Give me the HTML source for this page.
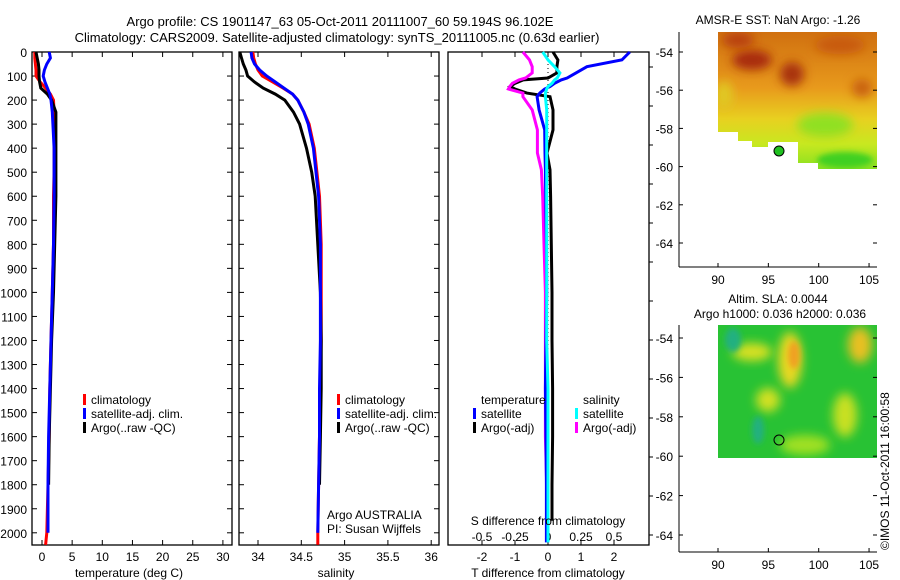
<!DOCTYPE html>
<html><head><meta charset="utf-8">
<style>
html,body{margin:0;padding:0;background:#fff;}
svg{display:block;font-family:"Liberation Sans",sans-serif;}
text{font-size:12px;fill:#000;}
</style></head>
<body>
<svg id="fig" width="900" height="580" viewBox="0 0 900 580" xmlns="http://www.w3.org/2000/svg">
<defs>
<filter id="blur6" x="-50%" y="-50%" width="200%" height="200%"><feGaussianBlur stdDeviation="5"/></filter>
<filter id="blur4" x="-50%" y="-50%" width="200%" height="200%"><feGaussianBlur stdDeviation="3"/></filter>
<clipPath id="clipTop"><polygon points="718,32 877,32 877,169 818,169 818,163 798,163 798,142 768,142 768,147 752,147 752,141 738,141 738,132 718,132"/></clipPath>
<clipPath id="clipBot"><rect x="718" y="325" width="159" height="133"/></clipPath>
<linearGradient id="gTop" x1="0" y1="0" x2="0" y2="1">
<stop offset="0" stop-color="#d07010"/><stop offset="0.4" stop-color="#e89a1c"/><stop offset="0.62" stop-color="#e8d020"/><stop offset="0.8" stop-color="#c8e820"/><stop offset="1" stop-color="#80e020"/>
</linearGradient>
</defs>
<text x="340" y="26" text-anchor="middle" style="font-size:13px">Argo profile: CS 1901147_63 05-Oct-2011 20111007_60 59.194S 96.102E</text>
<text x="337" y="42" text-anchor="middle" style="font-size:13px">Climatology: CARS2009. Satellite-adjusted climatology: synTS_20111005.nc (0.63d earlier)</text>
<g id="panels"></g>
<g id="maps">
 <text x="778" y="24" text-anchor="middle">AMSR-E SST: NaN Argo: -1.26</text>
 <g clip-path="url(#clipTop)">
  <rect x="718" y="32" width="159" height="140" fill="url(#gTop)"/>
  <ellipse cx="752" cy="60" rx="20" ry="10" fill="#a82a0c" filter="url(#blur6)"/>
  <ellipse cx="738" cy="40" rx="16" ry="8" fill="#b8400c" filter="url(#blur6)"/>
  <ellipse cx="792" cy="74" rx="12" ry="12" fill="#a83010" filter="url(#blur6)"/>
  <ellipse cx="840" cy="45" rx="25" ry="9" fill="#c85a10" filter="url(#blur6)"/>
  <ellipse cx="862" cy="88" rx="10" ry="9" fill="#c86010" filter="url(#blur6)"/>
  <ellipse cx="724" cy="95" rx="9" ry="14" fill="#e0c820" filter="url(#blur6)"/>
  <ellipse cx="845" cy="160" rx="28" ry="8" fill="#40d020" filter="url(#blur4)"/>
  <ellipse cx="825" cy="125" rx="28" ry="12" fill="#90e020" filter="url(#blur6)"/>
 </g>
 <circle cx="779" cy="151" r="5" fill="#20c020" stroke="#000" stroke-width="1"/>
 <text x="778" y="303" text-anchor="middle">Altim. SLA: 0.0044</text>
 <text x="780" y="318" text-anchor="middle">Argo h1000: 0.036 h2000: 0.036</text>
 <g clip-path="url(#clipBot)">
  <rect x="718" y="325" width="159" height="133" fill="#28c234"/>
  <ellipse cx="752" cy="352" rx="20" ry="9" fill="#d8e020" filter="url(#blur6)"/>
  <ellipse cx="790" cy="360" rx="12" ry="28" fill="#e8d820" filter="url(#blur6)"/>
  <ellipse cx="794" cy="355" rx="6" ry="14" fill="#f0a020" filter="url(#blur4)"/>
  <ellipse cx="768" cy="400" rx="12" ry="12" fill="#d0e020" filter="url(#blur6)"/>
  <ellipse cx="860" cy="345" rx="12" ry="18" fill="#e8c020" filter="url(#blur6)"/>
  <ellipse cx="845" cy="415" rx="12" ry="22" fill="#c8e020" filter="url(#blur6)"/>
  <ellipse cx="733" cy="340" rx="8" ry="12" fill="#20b080" filter="url(#blur4)"/>
  <ellipse cx="758" cy="430" rx="6" ry="14" fill="#20b080" filter="url(#blur4)"/>
  <ellipse cx="805" cy="445" rx="25" ry="10" fill="#a0e020" filter="url(#blur6)"/>
 </g>
 <circle cx="779" cy="440" r="5" fill="none" stroke="#000" stroke-width="1"/>
 <g id="mapaxes"></g>
 <text transform="translate(889,550) rotate(-90)">©IMOS 11-Oct-2011 16:00:58</text>
</g>
</svg>
<script>
// ---------- data ----------
const depths = [0,25,50,75,100,125,150,175,200,250,300,400,500,600,800,1000,1200,1400,1600,1800,2000,2050];
const tempClim = [-1.2,-1.2,-1.1,-1.0,-1.0,-0.3,0.6,1.4,1.9,2.0,2.0,2.0,2.0,1.9,1.9,1.7,1.5,1.3,1.2,1.0,0.8,0.6];
const tempSat  = [1.2,1.4,0.8,0.4,0.2,0.5,0.9,1.3,1.5,1.7,1.8,2.0,2.0,2.0,1.9,1.7,1.5,1.3,1.1,1.0,1.0,null];
const tempArgo = [-1.0,-0.8,-0.6,-0.5,-0.5,-0.4,-0.2,0.9,1.6,2.3,2.3,2.3,2.3,2.3,2.1,1.9,1.6,1.4,1.2,1.1,null,null];
const salClim  = [33.94,33.95,33.97,34.00,34.05,34.17,34.29,34.40,34.46,34.53,34.59,34.65,34.68,34.71,34.73,34.73,34.73,34.72,34.71,34.70,34.69,34.69];
const salSat   = [33.92,33.93,33.96,34.02,34.10,34.20,34.30,34.40,34.46,34.53,34.58,34.64,34.67,34.70,34.72,34.72,34.72,34.71,34.71,34.70,34.69,null];
const salArgo  = [33.79,33.81,33.83,33.86,33.88,33.96,34.06,34.20,34.31,34.41,34.48,34.56,34.62,34.66,34.69,34.72,34.73,34.73,34.72,34.71,null,null];
const dDepths = [0,33,61,87,108,116,130,144,154,171,186,241,324,420,490,600,800,1000,1200,1400,1600,1800,1950,2040];
const dTSat   = [2.48,2.24,1.18,0.85,0.58,0.40,0.20,0.06,-0.10,-0.25,-0.33,-0.27,-0.10,-0.09,-0.08,-0.07,-0.05,-0.04,-0.06,-0.08,-0.06,-0.05,-0.05,-0.05];
const dTArgo  = [0.15,0.30,0.27,0.27,0.0,-0.75,-1.0,-1.15,-1.0,-0.64,0.06,0.15,0.15,-0.03,0.06,0.08,0.10,0.12,0.12,0.14,0.14,0.12,0.12,null];
const dSSat   = [-0.04,0.0,0.05,0.09,0.07,0.05,0.03,0.0,-0.01,-0.02,-0.02,-0.01,-0.01,-0.01,-0.01,-0.01,-0.01,-0.01,-0.01,0.0,0.0,0.0,0.0,0.0];
const dSArgo  = [-0.19,-0.14,-0.12,-0.12,-0.17,-0.22,-0.27,-0.29,-0.30,-0.19,-0.19,-0.12,-0.08,-0.08,-0.05,-0.04,-0.03,-0.02,-0.02,-0.02,-0.02,-0.01,-0.01,null];
const depthTicks = [0,100,200,300,400,500,600,700,800,900,1000,1100,1200,1300,1400,1500,1600,1700,1800,1900,2000];
const tempTicks = [0,5,10,15,20,25,30];
const salTicks = [34,34.5,35,35.5,36];
const salTickLabels = ["34","34.5","35","35.5","36"];
const dTTicks = [-2,-1,0,1,2];
const dSTicks = [-0.5,-0.25,0,0.25,0.5];
const dSTickLabels = ["-0.5","-0.25","0","0.25","0.5"];
const lonTicks = [90,95,100,105];
const latTicks = [-54,-56,-58,-60,-62,-64];

// ---------- helpers ----------
const NS="http://www.w3.org/2000/svg";
const panels=document.getElementById('panels');
function mk(tag,attrs,parent){const e=document.createElementNS(NS,tag);for(const k in attrs)e.setAttribute(k,attrs[k]);(parent||panels).appendChild(e);return e;}
const Y=d=>52+d*0.2404;
const PT={x0:32,x1:232}, PS={x0:239,x1:439}, PD={x0:448,x1:649};
const xT=v=>42+v*6.03;
const xS=v=>258+(v-34)*86.6;
const xD=v=>548+v*33;
const xDS=v=>548+v*4*33;
const TOP=52,BOT=545;

function pathFrom(ds,vals,fx){let d='',pen=false;for(let i=0;i<ds.length;i++){if(vals[i]===null||vals[i]===undefined){pen=false;continue;}d+=(pen?'L':'M')+fx(vals[i]).toFixed(1)+','+Y(ds[i]).toFixed(1);pen=true;}return d;}

function frame(P,name){
  const g=mk('g',{});
  
  
  mk('rect',{x:P.x0,y:TOP,width:P.x1-P.x0,height:BOT-TOP,fill:'none',stroke:'#000','stroke-width':1.3},g);
  return g;
}
// panel 1
const g1=frame(PT,'temperature-panel');
depthTicks.forEach(d=>{
  mk('line',{x1:PT.x0,x2:PT.x0+5,y1:Y(d),y2:Y(d),stroke:'#000'},g1);
  mk('line',{x1:PT.x1,x2:PT.x1-5,y1:Y(d),y2:Y(d),stroke:'#000'},g1);
  mk('line',{x1:PS.x1,x2:PS.x1-5,y1:Y(d),y2:Y(d),stroke:'#000'},g1);
  const t=mk('text',{x:27,y:Y(d)+5,'text-anchor':'end'},g1);t.textContent=d;
  
  
});
tempTicks.forEach(v=>{
  mk('line',{x1:xT(v),x2:xT(v),y1:TOP,y2:TOP+5,stroke:'#000'},g1);
  mk('line',{x1:xT(v),x2:xT(v),y1:BOT,y2:BOT-5,stroke:'#000'},g1);
  const t=mk('text',{x:xT(v),y:561,'text-anchor':'middle'},g1);t.textContent=v;
  
  
});
let t=mk('text',{x:129,y:577,'text-anchor':'middle'},g1);t.textContent='temperature (deg C)';


[[tempClim,'#ff0000','temp-climatology-line'],[tempArgo,'#000000','temp-argo-line'],[tempSat,'#0000ff','temp-satellite-line']].forEach(([v,c,n])=>{
  const p=mk('path',{d:pathFrom(depths,v,xT),fill:'none',stroke:c,'stroke-width':3,'stroke-linejoin':'miter'},g1);
  
  
});
function legend(g,x,y,items,nm){
  items.forEach((it,i)=>{
    mk('rect',{x:x,y:y+i*14-10,width:3,height:11,fill:it[1]},g);
    const tt=mk('text',{x:x+8,y:y+i*14},g);tt.textContent=it[0];
    
    
  });
}
legend(g1,83,404,[['climatology','#f00'],['satellite-adj. clim.','#00f'],['Argo(..raw -QC)','#000']],'temperature-legend-entry');

// panel 2
const g2=frame(PS,'salinity-panel');
depthTicks.forEach(d=>{mk('line',{x1:PS.x0,x2:PS.x0+5,y1:Y(d),y2:Y(d),stroke:'#000'},g2);});
salTicks.forEach((v,i)=>{
  mk('line',{x1:xS(v),x2:xS(v),y1:TOP,y2:TOP+5,stroke:'#000'},g2);
  mk('line',{x1:xS(v),x2:xS(v),y1:BOT,y2:BOT-5,stroke:'#000'},g2);
  const tt=mk('text',{x:xS(v),y:561,'text-anchor':'middle'},g2);tt.textContent=salTickLabels[i];
  
  
});
t=mk('text',{x:336,y:577,'text-anchor':'middle'},g2);t.textContent='salinity';


[[salClim,'#ff0000','sal-climatology-line'],[salArgo,'#000000','sal-argo-line'],[salSat,'#0000ff','sal-satellite-line']].forEach(([v,c,n])=>{
  const p=mk('path',{d:pathFrom(depths,v,xS),fill:'none',stroke:c,'stroke-width':3},g2);
  
  
});
legend(g2,337,404,[['climatology','#f00'],['satellite-adj. clim.','#00f'],['Argo(..raw -QC)','#000']],'salinity-legend-entry');
t=mk('text',{x:327,y:519},g2);t.textContent='Argo AUSTRALIA';


t=mk('text',{x:327,y:533},g2);t.textContent='PI: Susan Wijffels';



// panel 3
const g3=frame(PD,'difference-panel');
mk('line',{x1:xD(0),x2:xD(0),y1:TOP,y2:BOT,stroke:'#000','stroke-dasharray':'1,3'},g3);
dTTicks.forEach(v=>{
  mk('line',{x1:xD(v),x2:xD(v),y1:TOP,y2:TOP+5,stroke:'#000'},g3);
  mk('line',{x1:xD(v),x2:xD(v),y1:BOT,y2:BOT-5,stroke:'#000'},g3);
  const tt=mk('text',{x:xD(v),y:561,'text-anchor':'middle'},g3);tt.textContent=v;
  
  
});
dSTicks.forEach((v,i)=>{
  const tt=mk('text',{x:xDS(v),y:541,'text-anchor':'middle'},g3);tt.textContent=dSTickLabels[i];
  
  
});
for(let k=0;k<13;k++){const yy=535-k*39;mk('line',{x1:PD.x1,x2:PD.x1+4,y1:yy,y2:yy,stroke:'#000'},g3);}
[[dTArgo,xD,'#000000','t-diff-argo-line'],[dSArgo,xDS,'#ff00ff','s-diff-argo-line'],[dTSat,xD,'#0000ff','t-diff-satellite-line'],[dSSat,xDS,'#00ffff','s-diff-satellite-line']].forEach(([v,f,c,n])=>{
  const p=mk('path',{d:pathFrom(dDepths,v,f),fill:'none',stroke:c,'stroke-width':3},g3);
  
  
});
t=mk('text',{x:481,y:404},g3);t.textContent='temperature';


t=mk('text',{x:583,y:404},g3);t.textContent='salinity';


legend(g3,473,418,[['satellite','#00f'],['Argo(-adj)','#000']],'diff-legend-entry');
legend(g3,575,418,[['satellite','#0ff'],['Argo(-adj)','#f0f']],'diff-legend-entry');
t=mk('text',{x:548,y:525,'text-anchor':'middle'},g3);t.textContent='S difference from climatology';


t=mk('text',{x:548,y:577,'text-anchor':'middle'},g3);t.textContent='T difference from climatology';



// map axes
const ma=document.getElementById('mapaxes');
function mapAxes(top,bot,lat54,pxLat,nm){
  const g=mk('g',{},ma);
  
  
  mk('line',{x1:679,x2:679,y1:top,y2:bot,stroke:'#000'},g);
  mk('line',{x1:679,x2:877,y1:bot,y2:bot,stroke:'#000'},g);
  latTicks.forEach(v=>{const yy=lat54+(-54-v)*pxLat;
    mk('line',{x1:679,x2:683,y1:yy,y2:yy,stroke:'#000'},g);
    mk('line',{x1:877,x2:873,y1:yy,y2:yy,stroke:'#000'},g);
    const tt=mk('text',{x:673,y:yy+5,'text-anchor':'end'},g);tt.textContent=v;
    
    });
  lonTicks.forEach(v=>{const xx=718+(v-90)*10.07;
    mk('line',{x1:xx,x2:xx,y1:bot,y2:bot-4,stroke:'#000'},g);
    const tt=mk('text',{x:xx,y:bot+17,'text-anchor':'middle'},g);tt.textContent=v;
    
    });
}
mapAxes(32,267,52,19.1,'sst-map-axes');
mapAxes(325,552,338,19.7,'sla-map-axes');
</script>
</body></html>
